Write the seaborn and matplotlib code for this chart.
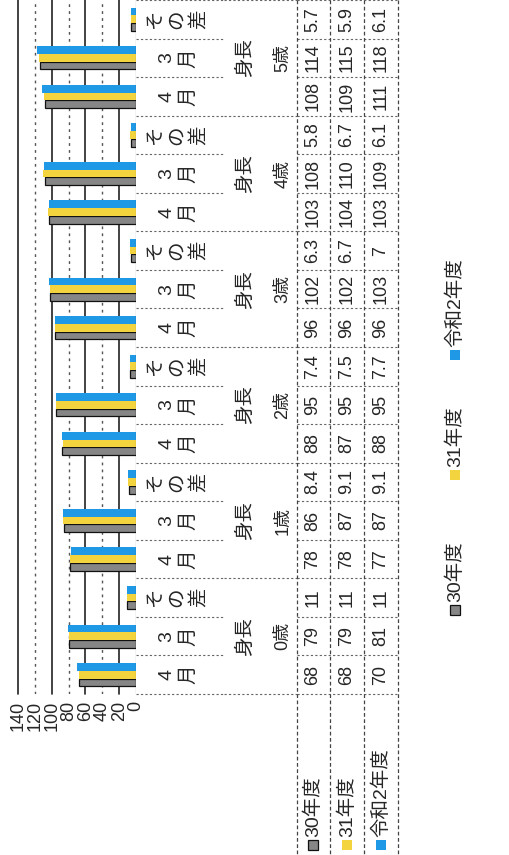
import numpy as np
import pandas as pd
import matplotlib
matplotlib.use('Agg')
import matplotlib.pyplot as plt
import matplotlib.transforms as mtransforms
from matplotlib.patches import Rectangle
from matplotlib.lines import Line2D
import seaborn as sns

ages = ['0歳', '1歳', '2歳', '3歳', '4歳', '5歳']
items = ['4月', '3月', 'その差']
item_labels = ['4\n月', '3\n月', 'そ\nの\n差']
group_label = '身長'
series = ['30年度', '31年度', '令和2年度']
h30 = [68, 79, 11, 78, 86, 8.4, 88, 95, 7.4, 96, 102, 6.3, 103, 108, 5.8, 108, 114, 5.7]
h31 = [68, 79, 11, 78, 87, 9.1, 87, 95, 7.5, 96, 102, 6.7, 104, 110, 6.7, 109, 115, 5.9]
r2 = [70, 81, 11, 77, 87, 9.1, 88, 95, 7.7, 96, 103, 7, 103, 109, 6.1, 111, 118, 6.1]
colors = ['#868686', '#f4d43e', '#1f98e6']
xticks = [0, 20, 40, 60, 80, 100, 120, 140]

keys = [a + i for a in ages for i in items]
rows = []
for s, vals in zip(series, [h30, h31, r2]):
    for k, v in zip(keys, vals):
        rows.append({'key': k, 'series': s, 'value': v})
df = pd.DataFrame(rows)

sns.set_style('white')
plt.rcParams['font.family'] = ['Liberation Sans', 'Noto Sans CJK JP', 'DejaVu Sans']

W, H = 510, 855
fig = plt.figure(figsize=(W / 100, H / 100), dpi=100)


def fx(px):
    return px / W


def fy(py):
    return 1 - py / H


# plot area (chart is rotated: value axis runs right -> left)
ax_l, ax_r, ax_b = 18, 136, 694
ax = fig.add_axes([fx(ax_l), fy(ax_b), fx(ax_r - ax_l), 1 - fy(ax_b)])
sns.barplot(data=df, x='value', y='key', hue='series', order=keys, hue_order=series,
            palette=colors, orient='h', width=0.6, saturation=1, ax=ax, legend=False)
for p in ax.containers[0]:
    p.set_edgecolor('#111111')
    p.set_linewidth(0.9)
for c in ax.containers[1:]:
    for p in c:
        p.set_edgecolor('none')

ax.set_ylim(-0.5, len(keys) - 0.5)
ax.set_xlim(140, 0)
ax.set_xticks(xticks)
ax.set_xticklabels([str(t) for t in xticks], rotation=90, fontsize=13)
ax.set_yticks([])
ax.set_xlabel('')
ax.set_ylabel('')
ax.tick_params(axis='x', length=0, pad=5)
for sp in ax.spines.values():
    sp.set_visible(False)
for t in xticks[1:]:
    if t in (20, 60, 100, 140):
        ax.axvline(t, color='#222222', lw=1.2, zorder=0, clip_on=False)
    else:
        ax.axvline(t, color='#555555', lw=1.0, ls=(0, (2, 3)), zorder=0)
ax.axvline(0, color='#333333', lw=0.8, zorder=3)

# data table, y tied to the category scale
tr = mtransforms.blended_transform_factory(fig.transFigure, ax.transData)
n = len(keys)
lvl1_x, lvl2_x, lvl3_x = 178, 245, 283
row_edges = [297, 330, 364, 398]
row_centers = [313, 347, 381]

for j, k in enumerate(keys):
    it = j % 3
    fig.text(fx(lvl1_x), j, item_labels[it], transform=tr, rotation=90, ha='center', va='center',
             fontsize=14, linespacing=1.35)
    if it == 1:
        fig.text(fx(lvl2_x), j, group_label, transform=tr, rotation=90, ha='center', va='center',
                 fontsize=14)
        fig.text(fx(lvl3_x), j, ages[j // 3], transform=tr, rotation=90, ha='center', va='center',
                 fontsize=13)
    for r, vals in enumerate([h30, h31, r2]):
        fig.text(fx(row_centers[r]), j, f'{vals[j]:g}', transform=tr, rotation=90,
                 ha='center', va='center', fontsize=13)

grid_kw = dict(color='#666666', lw=0.8, ls=(0, (2, 2)))
for b in range(n + 1):
    yb = b - 0.5
    fig.add_artist(Line2D([fx(ax_r), fx(lvl1_x + 46)], [yb, yb], transform=tr, **grid_kw))
    if b % 3 == 0:
        fig.add_artist(Line2D([fx(lvl1_x + 46), fx(row_edges[0])], [yb, yb], transform=tr, **grid_kw))
    fig.add_artist(Line2D([fx(row_edges[0]), fx(row_edges[-1])], [yb, yb], transform=tr, **grid_kw))
for xe in row_edges:
    fig.add_artist(Line2D([fx(xe), fx(xe)], [fy(0), fy(H)], transform=fig.transFigure,
                          color='#444444', lw=0.9, ls=(0, (3, 2))))

# row headers (series names with legend keys)
for r, s in enumerate(series):
    cx = row_centers[r]
    fig.add_artist(Rectangle((fx(cx - 5), fy(850)), fx(10), 10 / H, transform=fig.transFigure,
                             facecolor=colors[r], edgecolor='#111111' if r == 0 else 'none', lw=0.9))
    fig.text(fx(cx), fy(837), s, rotation=90, ha='center', va='bottom', fontsize=14)

# legend
leg_x = 455
leg_sq = [615, 480, 360]
for r, s in enumerate(series):
    y0 = leg_sq[r]
    fig.add_artist(Rectangle((fx(leg_x - 5), fy(y0)), fx(10), 10 / H, transform=fig.transFigure,
                             facecolor=colors[r], edgecolor='#111111' if r == 0 else 'none', lw=0.9))
    fig.text(fx(leg_x), fy(y0 - 13), s, rotation=90, ha='center', va='bottom', fontsize=14)

fig.savefig('out.png', dpi=100)
